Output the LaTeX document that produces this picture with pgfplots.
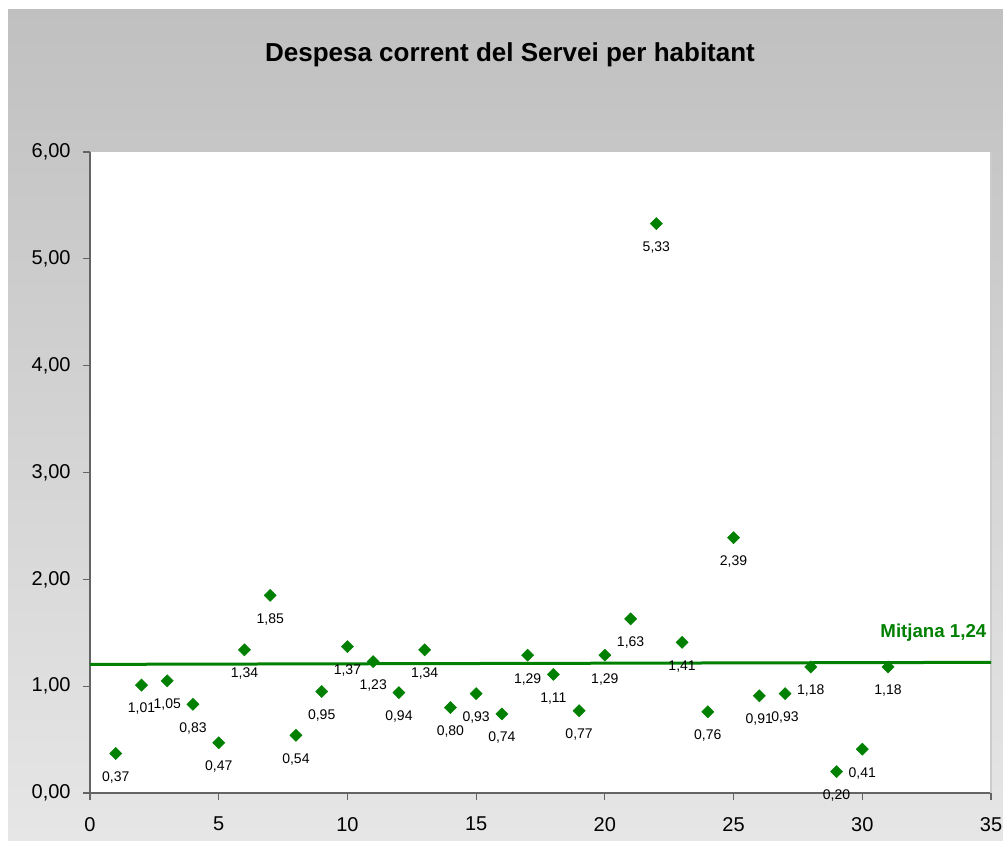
\documentclass[border=0pt]{standalone}
\usepackage{pgfplots}
\pgfplotsset{compat=1.18}
\usepackage{fontspec}
\setmainfont{Liberation Sans}
\definecolor{xlgreen}{RGB}{0,128,0}
\definecolor{bgtop}{RGB}{192,192,192}
\definecolor{bgbot}{RGB}{230,230,230}
\definecolor{spine}{RGB}{100,100,100}
\begin{document}
\begin{tikzpicture}
\useasboundingbox (0pt,0pt) rectangle (752.25pt,630pt);
\fill[white] (0pt,0pt) rectangle (752.25pt,630pt);
\shade[top color=bgtop, bottom color=bgbot] (6pt,0pt) rectangle (752.25pt,622.5pt);
\node[font=\bfseries\fontsize{19.5}{23}\selectfont, anchor=base] at (382.5pt,583.5pt) {Despesa corrent del Servei per habitant};
\begin{axis}[
  at={(67.5pt,35.25pt)}, anchor=south west,
  width=675.75pt, height=480.75pt, scale only axis,
  xmin=0, xmax=35, ymin=0, ymax=6,
  xtick={0,5,...,35}, ytick={0,1,...,6},
  axis background/.style={fill=white},
  axis x line*=bottom, axis y line*=left,
  axis line style={spine, line width=1pt},
  tick style={spine, line width=0.8pt},
  tick align=outside, major tick length=5pt,
  /pgf/number format/assume math mode=true,
  tick label style={font=\fontsize{15}{18}\selectfont},
  yticklabel style={xshift=-6pt, /pgf/number format/fixed, /pgf/number format/fixed zerofill, /pgf/number format/precision=2, /pgf/number format/use comma},
  xticklabel style={yshift=-9.5pt, /pgf/number format/fixed, /pgf/number format/precision=0},
  clip=false,
]
\draw[gray!40, line width=1.5pt] (rel axis cs:1,0) -- (rel axis cs:1,1);
\addplot[xlgreen, line width=2.25pt, forget plot] coordinates {(0,1.204) (35,1.223)};
\addplot[only marks, mark=square*, mark size=3.2pt, mark options={rotate=45, fill=xlgreen, draw=xlgreen},
  nodes near coords,
  every node near coord/.append style={/pgf/number format/fixed, /pgf/number format/fixed zerofill, /pgf/number format/precision=2, /pgf/number format/use comma, font=\fontsize{10.5}{12}\selectfont, text=black, anchor=north, yshift=-10pt, rotate=0}]
coordinates {
(1,0.37) (2,1.01) (3,1.05) (4,0.83) (5,0.47) (6,1.34) (7,1.85) (8,0.54) (9,0.95) (10,1.37)
(11,1.23) (12,0.94) (13,1.34) (14,0.80) (15,0.93) (16,0.74) (17,1.29) (18,1.11) (19,0.77) (20,1.29)
(21,1.63) (22,5.33) (23,1.41) (24,0.76) (25,2.39) (26,0.91) (27,0.93) (28,1.18) (29,0.20) (30,0.41) (31,1.18)
};
\node[anchor=east, text=xlgreen, font=\bfseries\fontsize{14}{16}\selectfont] at (axis cs:35.0,1.50) {Mitjana 1,24};
\end{axis}
\end{tikzpicture}
\end{document}
